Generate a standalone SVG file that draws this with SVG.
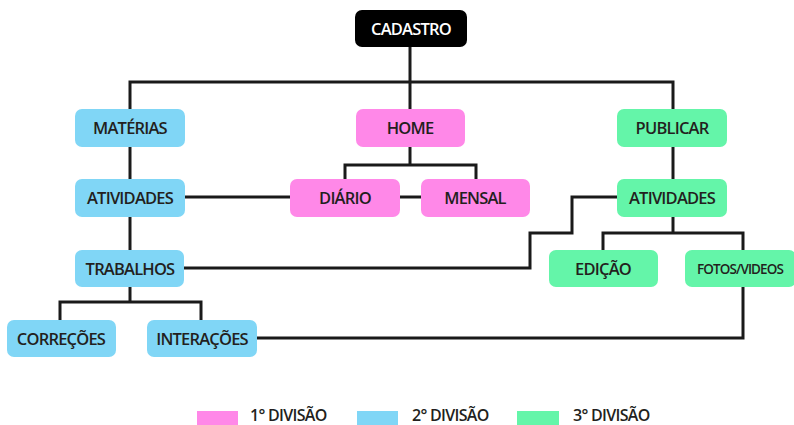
<svg xmlns="http://www.w3.org/2000/svg" width="794" height="425" viewBox="0 0 794 425">
<style>
.n rect{rx:7px;ry:7px}
.pink{fill:#ff88e8}
.blue{fill:#80d6f6}
.green{fill:#64f5a9}
.t{font-family:"Open Sans","Liberation Sans",sans-serif;font-size:16.5px;font-weight:600;fill:#231f20;text-anchor:middle;letter-spacing:-0.8px}
.lg{font-family:"Open Sans","Liberation Sans",sans-serif;font-size:16px;font-weight:600;fill:#231f20;letter-spacing:-0.7px}
.c{fill:none;stroke:#1a1a1a;stroke-width:3}
</style>
<rect width="794" height="425" fill="#ffffff"/>
<g id="connectors" class="c">
<path d="M410 47V109"/>
<path d="M130 109V82H673V109"/>
<path d="M130 147V250"/>
<path d="M410 147V165"/>
<path d="M345 179V165H476V179"/>
<path d="M185 197H290"/>
<path d="M400 197H421"/>
<path d="M673 147V180"/>
<path d="M617 197H572V233H530V268H184"/>
<path d="M673 217V233"/>
<path d="M603 250V233H743V250"/>
<path d="M130 287V302"/>
<path d="M60 320V302H201V320"/>
<path d="M743 287V338H257"/>
</g>
<g id="cadastro" class="n"><rect x="355" y="10" width="112" height="37" fill="#000"/><text class="t" x="411" y="35" style="fill:#fff">CADASTRO</text></g>
<g id="materias" class="n"><rect class="blue" x="75" y="109" width="110" height="38"/><text class="t" x="130" y="134">MATÉRIAS</text></g>
<g id="home" class="n"><rect class="pink" x="356" y="109" width="109" height="38"/><text class="t" x="410" y="134">HOME</text></g>
<g id="publicar" class="n"><rect class="green" x="617" y="109" width="110" height="38"/><text class="t" x="672" y="134">PUBLICAR</text></g>
<g id="atividades1" class="n"><rect class="blue" x="75" y="179" width="110" height="38"/><text class="t" x="130" y="204">ATIVIDADES</text></g>
<g id="diario" class="n"><rect class="pink" x="290" y="179" width="110" height="38"/><text class="t" x="345" y="204">DIÁRIO</text></g>
<g id="mensal" class="n"><rect class="pink" x="421" y="179" width="109" height="38"/><text class="t" x="475" y="204">MENSAL</text></g>
<g id="atividades2" class="n"><rect class="green" x="617" y="179" width="110" height="38"/><text class="t" x="672" y="204">ATIVIDADES</text></g>
<g id="trabalhos" class="n"><rect class="blue" x="75" y="250" width="109" height="37"/><text class="t" x="130" y="275">TRABALHOS</text></g>
<g id="edicao" class="n"><rect class="green" x="549" y="250" width="109" height="37"/><text class="t" x="603" y="275">EDIÇÃO</text></g>
<g id="fotos" class="n"><rect class="green" x="685" y="250" width="111" height="37"/><text class="t" x="740" y="274" style="font-size:13.5px;letter-spacing:-0.9px">FOTOS/VIDEOS</text></g>
<g id="correcoes" class="n"><rect class="blue" x="7" y="320" width="109" height="37"/><text class="t" x="61" y="345">CORREÇÕES</text></g>
<g id="interacoes" class="n"><rect class="blue" x="147" y="320" width="110" height="37"/><text class="t" x="202" y="345">INTERAÇÕES</text></g>
<g id="legend">
<rect class="pink" x="197" y="411" width="41" height="14"/><text class="lg" x="250" y="421">1° DIVISÃO</text>
<rect class="blue" x="357" y="411" width="41" height="14"/><text class="lg" x="412" y="421">2° DIVISÃO</text>
<rect class="green" x="517" y="411" width="42" height="14"/><text class="lg" x="573" y="421">3° DIVISÃO</text>
</g>
</svg>
